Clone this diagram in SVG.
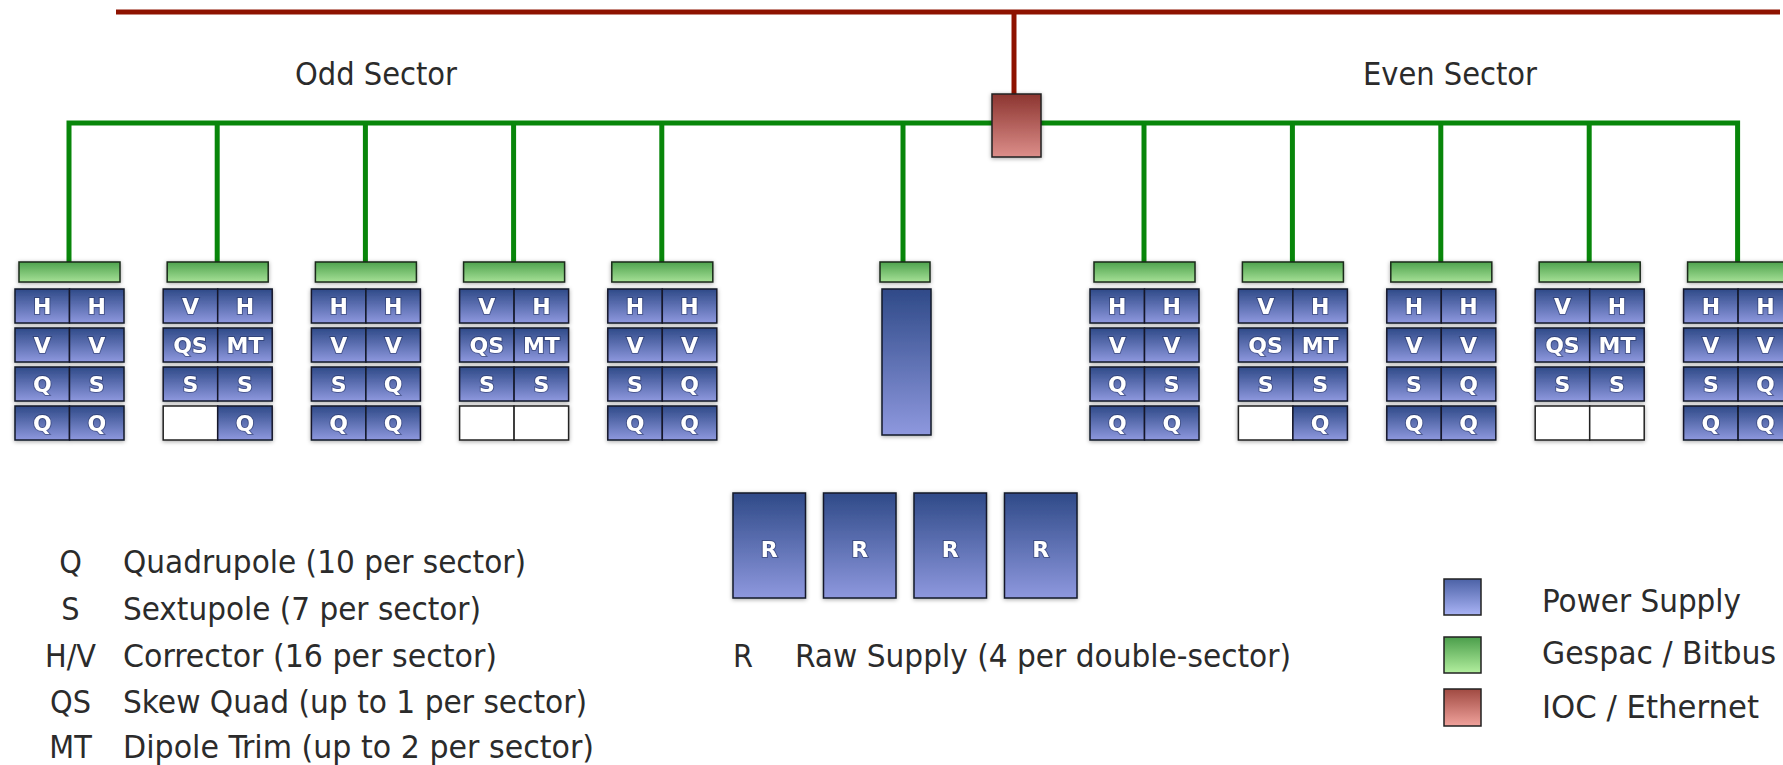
<svg xmlns="http://www.w3.org/2000/svg" width="1783" height="765" viewBox="0 0 1783 765">
<defs>
<linearGradient id="gPS" x1="0" y1="0" x2="0" y2="1"><stop offset="0" stop-color="#2f4a88"/><stop offset="1" stop-color="#8e98de"/></linearGradient>
<linearGradient id="gGB" x1="0" y1="0" x2="0" y2="1"><stop offset="0" stop-color="#4ea34e"/><stop offset="1" stop-color="#a6e096"/></linearGradient>
<linearGradient id="gIOC" x1="0" y1="0" x2="0" y2="1"><stop offset="0" stop-color="#8c3530"/><stop offset="1" stop-color="#dc8e8a"/></linearGradient>
<linearGradient id="gPSL" x1="0" y1="0" x2="0" y2="1"><stop offset="0" stop-color="#4c62a6"/><stop offset="1" stop-color="#a9b3f5"/></linearGradient>
<linearGradient id="gGBL" x1="0" y1="0" x2="0" y2="1"><stop offset="0" stop-color="#4b9e4b"/><stop offset="1" stop-color="#b2ee9e"/></linearGradient>
<linearGradient id="gIOCL" x1="0" y1="0" x2="0" y2="1"><stop offset="0" stop-color="#a04a42"/><stop offset="1" stop-color="#f0a29c"/></linearGradient>
<filter id="sh" x="-20%" y="-20%" width="140%" height="140%"><feDropShadow dx="0" dy="1" stdDeviation="2.2" flood-color="#000" flood-opacity="0.35"/></filter>
</defs>
<style>
.ps{fill:url(#gPS);stroke:#15192a;stroke-width:1.5}
.em{fill:#fff;stroke:#222;stroke-width:1.5}
.gb{fill:url(#gGB);stroke:#1a2a1a;stroke-width:1.5}
.ioc{fill:url(#gIOC);stroke:#222;stroke-width:1.5}
.lb{font-family:"DejaVu Sans",sans-serif;font-weight:bold;font-size:22px;fill:#fff;text-anchor:middle;stroke:#1a2550;stroke-width:2;stroke-opacity:0.45;paint-order:stroke}
.tx{font-family:"DejaVu Sans Condensed","DejaVu Sans",sans-serif;font-stretch:condensed;font-size:32px;fill:#2b2b2b}
.mid{text-anchor:middle}
.red{stroke:#8e1200;stroke-width:5;fill:none}
.grn{stroke:#08860a;stroke-width:5;fill:none}
</style>
<rect width="1783" height="765" fill="#fff"/>

<g id="connectors">
<path class="red" d="M116,12 H1780"/>
<path class="red" d="M1014,12 V94"/>
<path class="grn" d="M69,262 V123 H1737.6 V262"/>
<path class="grn" d="M217.2,123 V262 M365.4,123 V262 M513.6,123 V262 M661.8,123 V262 M903,123 V262 M1144,123 V262 M1292.4,123 V262 M1440.8,123 V262 M1589.2,123 V262"/>
</g>

<g id="ioc" filter="url(#sh)"><rect class="ioc" x="992" y="94" width="49" height="63"/></g>

<g id="odd1" transform="translate(15,0)" filter="url(#sh)">
<rect class="gb" x="4" y="262" width="101" height="20"/>
<rect class="ps" x="0" y="289" width="54.5" height="34"/><rect class="ps" x="54.5" y="289" width="54.5" height="34"/>
<rect class="ps" x="0" y="328" width="54.5" height="34"/><rect class="ps" x="54.5" y="328" width="54.5" height="34"/>
<rect class="ps" x="0" y="367" width="54.5" height="34"/><rect class="ps" x="54.5" y="367" width="54.5" height="34"/>
<rect class="ps" x="0" y="406" width="54.5" height="34"/><rect class="ps" x="54.5" y="406" width="54.5" height="34"/>
<text class="lb" x="27.25" y="314">H</text><text class="lb" x="81.75" y="314">H</text>
<text class="lb" x="27.25" y="353">V</text><text class="lb" x="81.75" y="353">V</text>
<text class="lb" x="27.25" y="392">Q</text><text class="lb" x="81.75" y="392">S</text>
<text class="lb" x="27.25" y="431">Q</text><text class="lb" x="81.75" y="431">Q</text>
</g>

<g id="odd2" transform="translate(163.2,0)" filter="url(#sh)">
<rect class="gb" x="4" y="262" width="101" height="20"/>
<rect class="ps" x="0" y="289" width="54.5" height="34"/><rect class="ps" x="54.5" y="289" width="54.5" height="34"/>
<rect class="ps" x="0" y="328" width="54.5" height="34"/><rect class="ps" x="54.5" y="328" width="54.5" height="34"/>
<rect class="ps" x="0" y="367" width="54.5" height="34"/><rect class="ps" x="54.5" y="367" width="54.5" height="34"/>
<rect class="em" x="0" y="406" width="54.5" height="34"/><rect class="ps" x="54.5" y="406" width="54.5" height="34"/>
<text class="lb" x="27.25" y="314">V</text><text class="lb" x="81.75" y="314">H</text>
<text class="lb" x="27.25" y="353">QS</text><text class="lb" x="81.75" y="353">MT</text>
<text class="lb" x="27.25" y="392">S</text><text class="lb" x="81.75" y="392">S</text>
<text class="lb" x="81.75" y="431">Q</text>
</g>

<g id="odd3" transform="translate(311.4,0)" filter="url(#sh)">
<rect class="gb" x="4" y="262" width="101" height="20"/>
<rect class="ps" x="0" y="289" width="54.5" height="34"/><rect class="ps" x="54.5" y="289" width="54.5" height="34"/>
<rect class="ps" x="0" y="328" width="54.5" height="34"/><rect class="ps" x="54.5" y="328" width="54.5" height="34"/>
<rect class="ps" x="0" y="367" width="54.5" height="34"/><rect class="ps" x="54.5" y="367" width="54.5" height="34"/>
<rect class="ps" x="0" y="406" width="54.5" height="34"/><rect class="ps" x="54.5" y="406" width="54.5" height="34"/>
<text class="lb" x="27.25" y="314">H</text><text class="lb" x="81.75" y="314">H</text>
<text class="lb" x="27.25" y="353">V</text><text class="lb" x="81.75" y="353">V</text>
<text class="lb" x="27.25" y="392">S</text><text class="lb" x="81.75" y="392">Q</text>
<text class="lb" x="27.25" y="431">Q</text><text class="lb" x="81.75" y="431">Q</text>
</g>

<g id="odd4" transform="translate(459.6,0)" filter="url(#sh)">
<rect class="gb" x="4" y="262" width="101" height="20"/>
<rect class="ps" x="0" y="289" width="54.5" height="34"/><rect class="ps" x="54.5" y="289" width="54.5" height="34"/>
<rect class="ps" x="0" y="328" width="54.5" height="34"/><rect class="ps" x="54.5" y="328" width="54.5" height="34"/>
<rect class="ps" x="0" y="367" width="54.5" height="34"/><rect class="ps" x="54.5" y="367" width="54.5" height="34"/>
<rect class="em" x="0" y="406" width="54.5" height="34"/><rect class="em" x="54.5" y="406" width="54.5" height="34"/>
<text class="lb" x="27.25" y="314">V</text><text class="lb" x="81.75" y="314">H</text>
<text class="lb" x="27.25" y="353">QS</text><text class="lb" x="81.75" y="353">MT</text>
<text class="lb" x="27.25" y="392">S</text><text class="lb" x="81.75" y="392">S</text>
</g>

<g id="odd5" transform="translate(607.8,0)" filter="url(#sh)">
<rect class="gb" x="4" y="262" width="101" height="20"/>
<rect class="ps" x="0" y="289" width="54.5" height="34"/><rect class="ps" x="54.5" y="289" width="54.5" height="34"/>
<rect class="ps" x="0" y="328" width="54.5" height="34"/><rect class="ps" x="54.5" y="328" width="54.5" height="34"/>
<rect class="ps" x="0" y="367" width="54.5" height="34"/><rect class="ps" x="54.5" y="367" width="54.5" height="34"/>
<rect class="ps" x="0" y="406" width="54.5" height="34"/><rect class="ps" x="54.5" y="406" width="54.5" height="34"/>
<text class="lb" x="27.25" y="314">H</text><text class="lb" x="81.75" y="314">H</text>
<text class="lb" x="27.25" y="353">V</text><text class="lb" x="81.75" y="353">V</text>
<text class="lb" x="27.25" y="392">S</text><text class="lb" x="81.75" y="392">Q</text>
<text class="lb" x="27.25" y="431">Q</text><text class="lb" x="81.75" y="431">Q</text>
</g>

<g id="center" filter="url(#sh)">
<rect class="gb" x="880" y="262" width="50" height="20"/>
<rect class="ps" x="882" y="289" width="49" height="146"/>
</g>

<g id="even1" transform="translate(1090,0)" filter="url(#sh)">
<rect class="gb" x="4" y="262" width="101" height="20"/>
<rect class="ps" x="0" y="289" width="54.5" height="34"/><rect class="ps" x="54.5" y="289" width="54.5" height="34"/>
<rect class="ps" x="0" y="328" width="54.5" height="34"/><rect class="ps" x="54.5" y="328" width="54.5" height="34"/>
<rect class="ps" x="0" y="367" width="54.5" height="34"/><rect class="ps" x="54.5" y="367" width="54.5" height="34"/>
<rect class="ps" x="0" y="406" width="54.5" height="34"/><rect class="ps" x="54.5" y="406" width="54.5" height="34"/>
<text class="lb" x="27.25" y="314">H</text><text class="lb" x="81.75" y="314">H</text>
<text class="lb" x="27.25" y="353">V</text><text class="lb" x="81.75" y="353">V</text>
<text class="lb" x="27.25" y="392">Q</text><text class="lb" x="81.75" y="392">S</text>
<text class="lb" x="27.25" y="431">Q</text><text class="lb" x="81.75" y="431">Q</text>
</g>

<g id="even2" transform="translate(1238.4,0)" filter="url(#sh)">
<rect class="gb" x="4" y="262" width="101" height="20"/>
<rect class="ps" x="0" y="289" width="54.5" height="34"/><rect class="ps" x="54.5" y="289" width="54.5" height="34"/>
<rect class="ps" x="0" y="328" width="54.5" height="34"/><rect class="ps" x="54.5" y="328" width="54.5" height="34"/>
<rect class="ps" x="0" y="367" width="54.5" height="34"/><rect class="ps" x="54.5" y="367" width="54.5" height="34"/>
<rect class="em" x="0" y="406" width="54.5" height="34"/><rect class="ps" x="54.5" y="406" width="54.5" height="34"/>
<text class="lb" x="27.25" y="314">V</text><text class="lb" x="81.75" y="314">H</text>
<text class="lb" x="27.25" y="353">QS</text><text class="lb" x="81.75" y="353">MT</text>
<text class="lb" x="27.25" y="392">S</text><text class="lb" x="81.75" y="392">S</text>
<text class="lb" x="81.75" y="431">Q</text>
</g>

<g id="even3" transform="translate(1386.8,0)" filter="url(#sh)">
<rect class="gb" x="4" y="262" width="101" height="20"/>
<rect class="ps" x="0" y="289" width="54.5" height="34"/><rect class="ps" x="54.5" y="289" width="54.5" height="34"/>
<rect class="ps" x="0" y="328" width="54.5" height="34"/><rect class="ps" x="54.5" y="328" width="54.5" height="34"/>
<rect class="ps" x="0" y="367" width="54.5" height="34"/><rect class="ps" x="54.5" y="367" width="54.5" height="34"/>
<rect class="ps" x="0" y="406" width="54.5" height="34"/><rect class="ps" x="54.5" y="406" width="54.5" height="34"/>
<text class="lb" x="27.25" y="314">H</text><text class="lb" x="81.75" y="314">H</text>
<text class="lb" x="27.25" y="353">V</text><text class="lb" x="81.75" y="353">V</text>
<text class="lb" x="27.25" y="392">S</text><text class="lb" x="81.75" y="392">Q</text>
<text class="lb" x="27.25" y="431">Q</text><text class="lb" x="81.75" y="431">Q</text>
</g>

<g id="even4" transform="translate(1535.2,0)" filter="url(#sh)">
<rect class="gb" x="4" y="262" width="101" height="20"/>
<rect class="ps" x="0" y="289" width="54.5" height="34"/><rect class="ps" x="54.5" y="289" width="54.5" height="34"/>
<rect class="ps" x="0" y="328" width="54.5" height="34"/><rect class="ps" x="54.5" y="328" width="54.5" height="34"/>
<rect class="ps" x="0" y="367" width="54.5" height="34"/><rect class="ps" x="54.5" y="367" width="54.5" height="34"/>
<rect class="em" x="0" y="406" width="54.5" height="34"/><rect class="em" x="54.5" y="406" width="54.5" height="34"/>
<text class="lb" x="27.25" y="314">V</text><text class="lb" x="81.75" y="314">H</text>
<text class="lb" x="27.25" y="353">QS</text><text class="lb" x="81.75" y="353">MT</text>
<text class="lb" x="27.25" y="392">S</text><text class="lb" x="81.75" y="392">S</text>
</g>

<g id="even5" transform="translate(1683.6,0)" filter="url(#sh)">
<rect class="gb" x="4" y="262" width="101" height="20"/>
<rect class="ps" x="0" y="289" width="54.5" height="34"/><rect class="ps" x="54.5" y="289" width="54.5" height="34"/>
<rect class="ps" x="0" y="328" width="54.5" height="34"/><rect class="ps" x="54.5" y="328" width="54.5" height="34"/>
<rect class="ps" x="0" y="367" width="54.5" height="34"/><rect class="ps" x="54.5" y="367" width="54.5" height="34"/>
<rect class="ps" x="0" y="406" width="54.5" height="34"/><rect class="ps" x="54.5" y="406" width="54.5" height="34"/>
<text class="lb" x="27.25" y="314">H</text><text class="lb" x="81.75" y="314">H</text>
<text class="lb" x="27.25" y="353">V</text><text class="lb" x="81.75" y="353">V</text>
<text class="lb" x="27.25" y="392">S</text><text class="lb" x="81.75" y="392">Q</text>
<text class="lb" x="27.25" y="431">Q</text><text class="lb" x="81.75" y="431">Q</text>
</g>

<g id="raw" filter="url(#sh)">
<rect class="ps" x="733" y="493" width="72.5" height="105"/>
<rect class="ps" x="823.5" y="493" width="72.5" height="105"/>
<rect class="ps" x="914" y="493" width="72.5" height="105"/>
<rect class="ps" x="1004.5" y="493" width="72.5" height="105"/>
<text class="lb" x="769.25" y="557">R</text>
<text class="lb" x="859.75" y="557">R</text>
<text class="lb" x="950.25" y="557">R</text>
<text class="lb" x="1040.75" y="557">R</text>
</g>

<g id="titles">
<text class="tx" x="295" y="85" textLength="162" lengthAdjust="spacingAndGlyphs">Odd Sector</text>
<text class="tx" x="1363" y="85" textLength="174" lengthAdjust="spacingAndGlyphs">Even Sector</text>
</g>

<g id="legend-magnets">
<text class="tx mid" x="70.5" y="573">Q</text>
<text class="tx" x="123" y="573" textLength="403" lengthAdjust="spacingAndGlyphs">Quadrupole (10 per sector)</text>
<text class="tx mid" x="70.5" y="620">S</text>
<text class="tx" x="123" y="620" textLength="358" lengthAdjust="spacingAndGlyphs">Sextupole (7 per sector)</text>
<text class="tx mid" x="70.5" y="667">H/V</text>
<text class="tx" x="123" y="667" textLength="374" lengthAdjust="spacingAndGlyphs">Corrector (16 per sector)</text>
<text class="tx mid" x="70.5" y="713">QS</text>
<text class="tx" x="123" y="713" textLength="464" lengthAdjust="spacingAndGlyphs">Skew Quad (up to 1 per sector)</text>
<text class="tx mid" x="70.5" y="758">MT</text>
<text class="tx" x="123" y="758" textLength="471" lengthAdjust="spacingAndGlyphs">Dipole Trim (up to 2 per sector)</text>
</g>

<g id="legend-raw">
<text class="tx" x="733" y="667">R</text>
<text class="tx" x="795" y="667" textLength="496" lengthAdjust="spacingAndGlyphs">Raw Supply (4 per double-sector)</text>
</g>

<g id="legend-types">
<rect x="1444" y="579" width="37" height="36" fill="url(#gPSL)" stroke="#222" stroke-width="1.5"/>
<rect x="1444" y="637" width="37" height="36" fill="url(#gGBL)" stroke="#222" stroke-width="1.5"/>
<rect x="1444" y="689" width="37" height="37" fill="url(#gIOCL)" stroke="#222" stroke-width="1.5"/>
<text class="tx" x="1542" y="612" textLength="199" lengthAdjust="spacingAndGlyphs">Power Supply</text>
<text class="tx" x="1542" y="664" textLength="234" lengthAdjust="spacingAndGlyphs">Gespac / Bitbus</text>
<text class="tx" x="1542" y="718" textLength="217" lengthAdjust="spacingAndGlyphs">IOC / Ethernet</text>
</g>
</svg>
